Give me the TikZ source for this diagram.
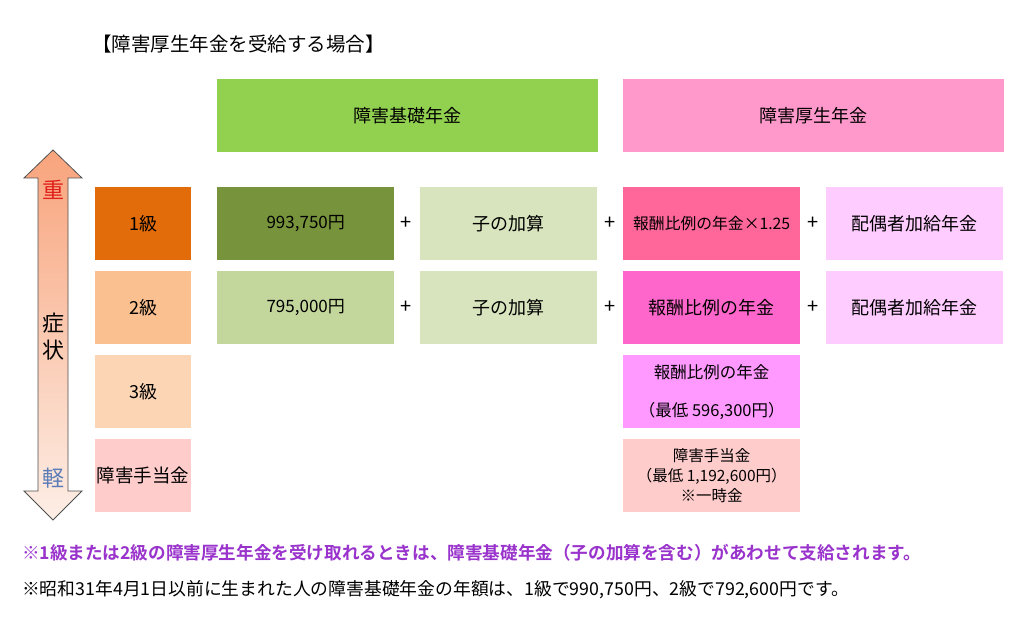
\documentclass[tikz,border=0pt]{standalone}
\usepackage{fontspec}
\setmainfont{Noto Sans CJK JP}
\newfontfamily\jpb{Noto Sans CJK JP}[BoldFont={* Bold}]
\definecolor{cOrange}{HTML}{E26B0A}
\definecolor{cOlive}{HTML}{77933C}
\definecolor{cHdrGreen}{HTML}{92D050}
\definecolor{cLtOlive}{HTML}{C3D69B}
\definecolor{cPaleGreen}{HTML}{D7E4BD}
\definecolor{cPeach}{HTML}{FAC090}
\definecolor{cLtPeach}{HTML}{FCD5B5}
\definecolor{cLtPink}{HTML}{FFCCCC}
\definecolor{cHdrPink}{HTML}{FF99CC}
\definecolor{cHotPink}{HTML}{FF6699}
\definecolor{cMagPink}{HTML}{FF66CC}
\definecolor{cLilac}{HTML}{FFCCFF}
\definecolor{cViolet}{HTML}{FF99FF}
\definecolor{cPurpleTxt}{HTML}{9933CC}
\definecolor{cRed}{HTML}{E0201A}
\definecolor{cBlueGray}{HTML}{5B7DB8}
\definecolor{cArrTop}{HTML}{F8A47C}
\definecolor{cArrBot}{HTML}{FDEEE6}
\definecolor{cArrLine}{HTML}{505050}
\tikzset{
  box/.style={anchor=north west, inner sep=0pt, draw=none, align=center,
    font=\fontsize{18}{20}\selectfont},
  numtxt/.style={font=\fontsize{17}{20}\selectfont},
  wbox/.style={box, minimum width=177pt, minimum height=73pt},
  sbox/.style={box, minimum width=96pt, minimum height=73pt},
  hbox/.style={box, minimum width=381pt, minimum height=73pt},
  plus/.style={inner sep=0pt, font=\fontsize{20}{22}\selectfont},
  lbl/.style={inner sep=0pt, font=\fontsize{22}{24}\selectfont},
}
\begin{document}
\begin{tikzpicture}[x=1pt,y=-1pt]
\useasboundingbox (0,0) rectangle (1026,623);
\fill[white] (0,0) rectangle (1026,623);

% title
\node[anchor=west, inner sep=0pt, font=\fontsize{19.5}{22}\selectfont] (title) at (92,44) {【障害厚生年金を受給する場合】};

% headers
\node[hbox, fill=cHdrGreen] (hkiso) at (217,79) {障害基礎年金};
\node[hbox, fill=cHdrPink] (hkosei) at (623,79) {障害厚生年金};

% row 1
\node[sbox, fill=cOrange] (g1) at (95,187) {1級};
\node[wbox, fill=cOlive, numtxt] (k1) at (217,187) {993,750円};
\node[wbox, fill=cPaleGreen] (c1) at (420,187) {子の加算};
\node[wbox, fill=cHotPink, font=\fontsize{15.8}{20}\selectfont] (h1) at (623,187) {報酬比例の年金×1.25};
\node[wbox, fill=cLilac] (s1) at (826,187) {配偶者加給年金};
\node[plus] (p11) at (406,223) {+};
\node[plus] (p12) at (610,223) {+};
\node[plus] (p13) at (813,223) {+};

% row 2
\node[sbox, fill=cPeach] (g2) at (95,271) {2級};
\node[wbox, fill=cLtOlive, numtxt] (k2) at (217,271) {795,000円};
\node[wbox, fill=cPaleGreen] (c2) at (420,271) {子の加算};
\node[wbox, fill=cMagPink] (h2) at (623,271) {報酬比例の年金};
\node[wbox, fill=cLilac] (s2) at (826,271) {配偶者加給年金};
\node[plus] (p21) at (406,307) {+};
\node[plus] (p22) at (610,307) {+};
\node[plus] (p23) at (813,307) {+};

% row 3
\node[sbox, fill=cLtPeach] (g3) at (95,355) {3級};
\node[wbox, fill=cViolet, font=\fontsize{16.5}{38}\selectfont] (h3) at (623,355) {報酬比例の年金\\（最低 596,300円）};

% row 4
\node[sbox, fill=cLtPink, font=\fontsize{18.5}{20}\selectfont] (g4) at (95,439) {障害手当金};
\node[wbox, fill=cLtPink, font=\fontsize{15.5}{20}\selectfont] (h4) at (623,439) {障害手当金\\（最低 1,192,600円）\\※一時金};

% arrow
\shade[top color=cArrTop, bottom color=cArrBot, draw=cArrLine, line width=0.8pt]
  (53,150) -- (82,178) -- (68,178) -- (68,491) -- (82,491) -- (53,520)
  -- (24,491) -- (38,491) -- (38,178) -- (24,178) -- cycle;
\node[lbl, text=cRed] (heavy) at (53,190) {重};
\node[lbl] (sho) at (53,323) {症};
\node[lbl] (jo) at (53,350) {状};
\node[lbl, text=cBlueGray] (light) at (53,478) {軽};

% notes
\node[anchor=west, inner sep=0pt, text=cPurpleTxt, font=\jpb\bfseries\fontsize{17.6}{20}\selectfont] (note1) at (22,553) {※1級または2級の障害厚生年金を受け取れるときは、障害基礎年金（子の加算を含む）があわせて支給されます。};
\node[anchor=west, inner sep=0pt, font=\fontsize{17.8}{20}\selectfont] (note2) at (22,590) {※昭和31年4月1日以前に生まれた人の障害基礎年金の年額は、1級で990,750円、2級で792,600円です。};
\end{tikzpicture}
\end{document}
